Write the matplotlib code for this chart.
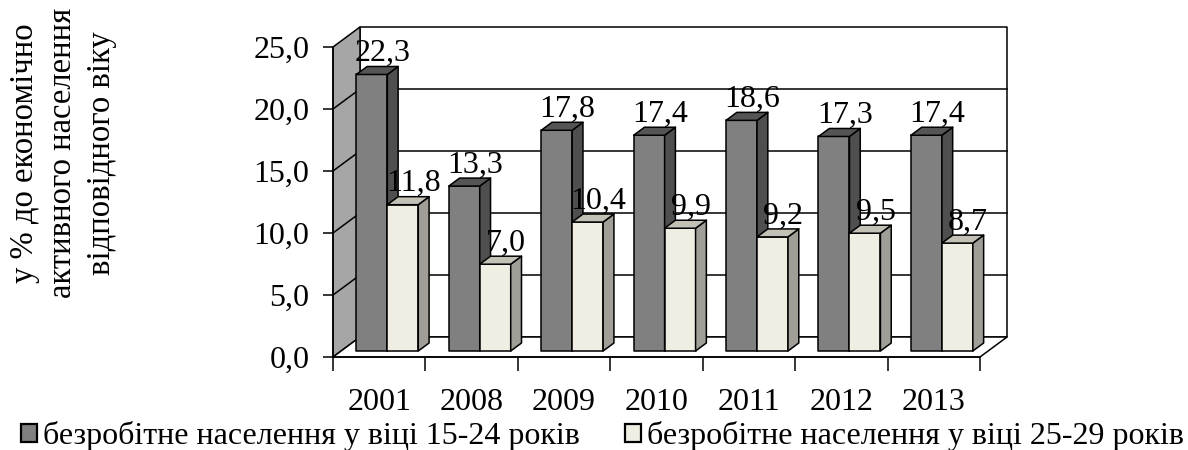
import numpy as np
import matplotlib
matplotlib.use("Agg")
import matplotlib.pyplot as plt
from matplotlib.patches import Polygon, Patch

plt.rcParams['font.family'] = ['Liberation Serif', 'DejaVu Serif']

years = ['2001', '2008', '2009', '2010', '2011', '2012', '2013']
young = [22.3, 13.3, 17.8, 17.4, 18.6, 17.3, 17.4]
older = [11.8, 7.0, 10.4, 9.9, 9.2, 9.5, 8.7]
series_names = ['безробітне населення у віці 15-24 років',
                'безробітне населення у віці 25-29 років']
ylabel = 'у % до економічно\nактивного населення\nвідповідного віку'
yticks = [0, 5, 10, 15, 20, 25]

# face colours: front, side, top
dark = ('#808080', '#4f4f4f', '#555555')
light = ('#f0eee3', '#a09e96', '#c3c0b5')
wall = '#a6a6a6'
FS = 23

W, H = 1188, 450
fig = plt.figure(figsize=(W / 100, H / 100), dpi=100)
ax = fig.add_axes([333 / W, 93 / H, 647 / W, 310 / H])
n = len(years)
ymax = 25
ax.set_xlim(0, n)
ax.set_ylim(0, ymax)

# oblique depth vector in data units (27 px right, 20 px up)
DX = 27 / (647 / n)
DY = 20 / (310 / ymax)


def proj(x, v, d):
    return (x + d * DX, v + d * DY)


def poly(pts, fc, z=2, ec='black', lw=1.1):
    ax.add_patch(Polygon(pts, closed=True, facecolor=fc, edgecolor=ec,
                         lw=lw, zorder=z, clip_on=False, joinstyle='round'))


# walls and floor
poly([proj(0, 0, 1), proj(n, 0, 1), proj(n, ymax, 1), proj(0, ymax, 1)], 'white', z=0.5)
poly([proj(0, 0, 0), proj(0, 0, 1), proj(0, ymax, 1), proj(0, ymax, 0)], wall, z=0.6)
poly([proj(0, 0, 0), proj(n, 0, 0), proj(n, 0, 1), proj(0, 0, 1)], 'white', z=0.7)
for t in yticks[1:-1]:
    ax.plot(*zip(proj(0, t, 1), proj(n, t, 1)), color='black', lw=1.1, zorder=0.55, clip_on=False)
    ax.plot(*zip(proj(0, t, 0), proj(0, t, 1)), color='black', lw=1.1, zorder=0.65, clip_on=False)


def bar3d(x0, x1, v, cols, d0=0.3, d1=0.7):
    front, side, top = cols
    poly([proj(x0, 0, d0), proj(x1, 0, d0), proj(x1, v, d0), proj(x0, v, d0)], front)
    poly([proj(x1, 0, d0), proj(x1, 0, d1), proj(x1, v, d1), proj(x1, v, d0)], side)
    poly([proj(x0, v, d0), proj(x1, v, d0), proj(x1, v, d1), proj(x0, v, d1)], top)


gap = 0.165
for i in range(n):
    bar3d(i + gap, i + 0.5, young[i], dark)
    bar3d(i + 0.5, i + 1 - gap, older[i], light)

for i in range(n):
    for xc, v in ((i + (gap + 0.5) / 2, young[i]), (i + (1.5 - gap) / 2, older[i])):
        lx, ly = proj(xc, v, 0.7)
        ax.text(lx, ly + 0.45, f'{v:.1f}'.replace('.', ','), ha='center', va='baseline',
                fontsize=FS, zorder=5, clip_on=False)

# axes
for s in ('top', 'right'):
    ax.spines[s].set_visible(False)
for s in ('left', 'bottom'):
    ax.spines[s].set_linewidth(1.1)
    ax.spines[s].set_zorder(3)
ax.set_yticks(yticks)
ax.set_yticklabels([f'{t:.1f}'.replace('.', ',') for t in yticks])
ax.tick_params(axis='y', direction='out', length=7, width=1.1, pad=10, labelsize=FS)
ax.set_xticks(np.arange(n + 1))
ax.set_xticklabels([])
ax.set_xticks(np.arange(n) + 0.5, minor=True)
ax.set_xticklabels(years, minor=True)
ax.tick_params(axis='x', which='major', direction='out', length=10, width=1.1)
ax.tick_params(axis='x', which='minor', length=0, pad=22, labelsize=FS)
ax.patch.set_visible(False)

fig.text(63 / W, 1 - 153 / H, ylabel, rotation=90, ha='center', va='center',
         multialignment='center', fontsize=23.5, linespacing=1.33)

handles = [Patch(facecolor=dark[0], edgecolor='black', lw=1.6),
           Patch(facecolor=light[0], edgecolor='black', lw=1.6)]
fig.legend(handles, series_names, loc='center left', bbox_to_anchor=(21 / W, 14 / H),
           ncol=2, frameon=False, fontsize=FS, handlelength=0.5, handleheight=0.5,
           handletextpad=0.2, columnspacing=1.4, borderaxespad=0, borderpad=0)

fig.savefig('out.png', dpi=100)
